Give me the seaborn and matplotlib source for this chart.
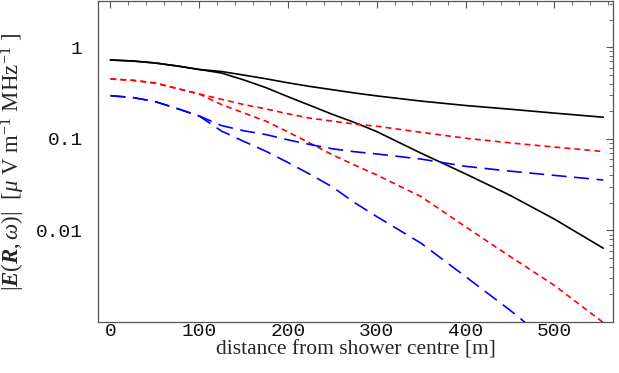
import numpy as np
import pandas as pd
import matplotlib
matplotlib.use("Agg")
import matplotlib.pyplot as plt
from matplotlib.ticker import FixedLocator, LogLocator, NullFormatter, FixedFormatter
import seaborn as sns

# distances [m]
dist = [0, 25, 50, 75, 100, 125, 150, 175, 200, 225, 250, 275, 300, 350, 400, 450, 500, 555]

# field strengths
black_flat = [0.726, 0.708, 0.674, 0.625, 0.572, 0.544, 0.497, 0.453, 0.409, 0.373, 0.344, 0.3166,
              0.2943, 0.2582, 0.2312, 0.2107, 0.191, 0.1722]
black_steep = [0.726, 0.708, 0.674, 0.625, 0.572, 0.5236, 0.4402, 0.3627, 0.2884, 0.2312, 0.1852, 0.1508,
               0.1199, 0.0696, 0.04145, 0.02419, 0.01329, 0.0064]
red_flat = [0.4502, 0.4357, 0.4073, 0.3546, 0.3088, 0.2702, 0.237, 0.2123, 0.1876, 0.168, 0.1561, 0.1451,
            0.1373, 0.1178, 0.1015, 0.0904, 0.0813, 0.0727]
red_steep = [0.4502, 0.4357, 0.4073, 0.3546, 0.3088, 0.237, 0.1919, 0.1561, 0.1187, 0.0895, 0.067, 0.0517,
             0.0403, 0.02335, 0.01095, 0.0052, 0.00251, 0.000987]
blue_flat = [0.2958, 0.2828, 0.2557, 0.2144, 0.1775, 0.1397, 0.1226, 0.1114, 0.0975, 0.0866, 0.0779, 0.0723,
             0.0684, 0.0601, 0.0501, 0.0444, 0.0399, 0.0355]
blue_steep = [0.2958, 0.2828, 0.2557, 0.2144, 0.1775, 0.1217, 0.0939, 0.0732, 0.0551, 0.0409, 0.0298, 0.0201,
              0.01415, 0.00723, 0.00313, 0.001346, 0.000545, np.nan]

sns.set_style("white")
plt.rcParams['font.family'] = ['Liberation Serif', 'DejaVu Serif']
plt.rcParams['mathtext.fontset'] = 'custom'
plt.rcParams['mathtext.rm'] = 'Liberation Serif'
plt.rcParams['mathtext.it'] = 'Liberation Serif:italic'
plt.rcParams['mathtext.bf'] = 'Liberation Serif:italic:bold'

fig = plt.figure(figsize=(6.19, 3.73), dpi=100)
ax = fig.add_axes([98/619, 51/373, 515/619, 321/373])

curves = [
    (black_flat, 'black', None),
    (black_steep, 'black', None),
    (red_flat, '#ff0000', (3.5, 2.5)),
    (red_steep, '#ff0000', (3.5, 2.5)),
    (blue_flat, '#0000ff', (9, 4.5)),
    (blue_steep, '#0000ff', (9, 4.5)),
]
for vals, col, dsh in curves:
    df = pd.DataFrame({'d': dist, 'E': vals}).dropna()
    sns.lineplot(data=df, x='d', y='E', color=col, linewidth=1.2, ax=ax)
    if dsh is not None:
        ax.lines[-1].set_dashes(dsh)

ax.set_yscale('log')
ax.set_xlim(-14, 566)
ax.set_ylim(0.001, 3.2)

ax.xaxis.set_major_locator(FixedLocator([0, 100, 200, 300, 400, 500]))
ax.xaxis.set_minor_locator(FixedLocator(np.arange(-20, 570, 20)))
ax.yaxis.set_major_locator(FixedLocator([1, 0.1, 0.01]))
ax.yaxis.set_major_formatter(FixedFormatter(['1', '0.1', '0.01']))
ax.yaxis.set_minor_locator(LogLocator(base=10, subs=np.arange(2, 10)))
ax.yaxis.set_minor_formatter(NullFormatter())

ax.tick_params(which='both', direction='in', top=True, right=True, colors='#555555',
               labelcolor='#111111')
ax.tick_params(which='major', length=5, width=0.8)
ax.tick_params(which='minor', length=3, width=0.6)
ax.tick_params(axis='x', which='major', pad=1)
ax.tick_params(axis='y', which='major', pad=11)
for lab in ax.get_xticklabels() + ax.get_yticklabels():
    lab.set_family('Liberation Mono')
    lab.set_fontsize(14)

for s in ax.spines.values():
    s.set_color('#555555')
    s.set_linewidth(0.9)

ax.set_xlabel('distance from shower centre [m]', fontsize=15.5, labelpad=0)
ax.set_ylabel(r'$|\mathbf{E}(\mathbf{R}, \omega)|$  [$\mu$ V m$^{-1}$ MHz$^{-1}$ ]',
              fontsize=16.5, labelpad=6)

fig.savefig('out.png', dpi=100)
